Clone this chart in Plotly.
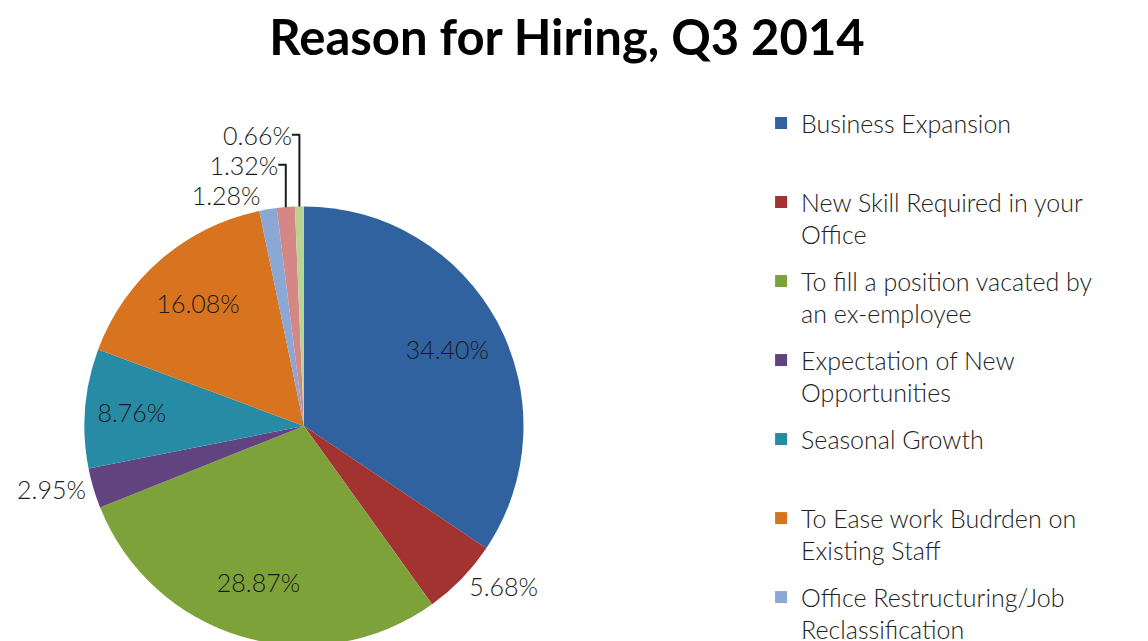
import plotly.graph_objects as go

# data (Q3 2014 survey)
reasons = [
    "Business Expansion",
    "New Skill Required in your<br>Office",
    "To fill a position vacated by<br>an ex-employee",
    "Expectation of New<br>Opportunities",
    "Seasonal Growth",
    "To Ease work Budrden on<br>Existing Staff",
    "Office Restructuring/Job<br>Reclassification",
    "Other",
    "Not stated",
]
shares = [34.40, 5.68, 28.87, 2.95, 8.76, 16.08, 1.28, 1.32, 0.66]

colors = ["#3162a0", "#a23331", "#7ea23a", "#61447f", "#288ba6",
          "#d8731f", "#8ba7d4", "#d48785", "#b9d492"]
text_pos = ["inside", "outside", "inside", "outside", "inside",
            "inside", "outside", "outside", "outside"]

plain = [r.replace("<br>", " ") for r in reasons]
pie_domain = dict(x=[0.0661, 0.4495], y=[0.0055, 0.6905])

fig = go.Figure()

# coloured slices
fig.add_trace(go.Pie(
    labels=plain,
    values=shares,
    sort=False,
    direction="clockwise",
    rotation=0,
    marker=dict(colors=colors, line=dict(width=0)),
    textinfo="none",
    hovertemplate="%{label}: %{value:.2f}%<extra></extra>",
    domain=pie_domain,
    showlegend=False,
))

# same pie again, transparent, with a hole so the percentages sit further out
fig.add_trace(go.Pie(
    labels=plain,
    values=shares,
    sort=False,
    direction="clockwise",
    rotation=0,
    hole=0.48,
    marker=dict(colors=["rgba(0,0,0,0)"] * len(shares), line=dict(width=0)),
    texttemplate="%{percent:.2%}",
    textposition=text_pos,
    insidetextorientation="horizontal",
    textfont=dict(family="Lato", size=25, color="#1a1a1a", weight=300),
    hoverinfo="skip",
    domain=pie_domain,
    showlegend=False,
))

# legend entries (one group each so they are evenly spaced like the original)
for name, c in zip(reasons, colors):
    label = name if "<br>" in name else name + "<br> "
    fig.add_trace(go.Scatter(
        x=[None], y=[None], mode="markers",
        marker=dict(symbol="square", size=12, color=c),
        name=label, legendgroup=name, hoverinfo="skip",
    ))

fig.update_layout(
    width=1148,
    height=641,
    margin=dict(l=0, r=0, t=0, b=0, autoexpand=False),
    paper_bgcolor="white",
    plot_bgcolor="white",
    xaxis=dict(visible=False),
    yaxis=dict(visible=False),
    title=dict(
        text="<b>Reason for Hiring, Q3 2014</b>",
        font=dict(family="Lato", size=49, color="black"),
        x=0.487, xanchor="center",
        y=0.953, yanchor="middle", yref="container",
    ),
    legend=dict(
        x=0.656, xanchor="left",
        y=0.856, yanchor="top",
        valign="top",
        tracegroupgap=11,
        maxheight=2000,
        font=dict(family="Lato", size=25, color="#222222", weight=300),
        bgcolor="rgba(0,0,0,0)",
        itemclick=False,
        itemdoubleclick=False,
    ),
    showlegend=True,
)

fig.write_html("out.html")
